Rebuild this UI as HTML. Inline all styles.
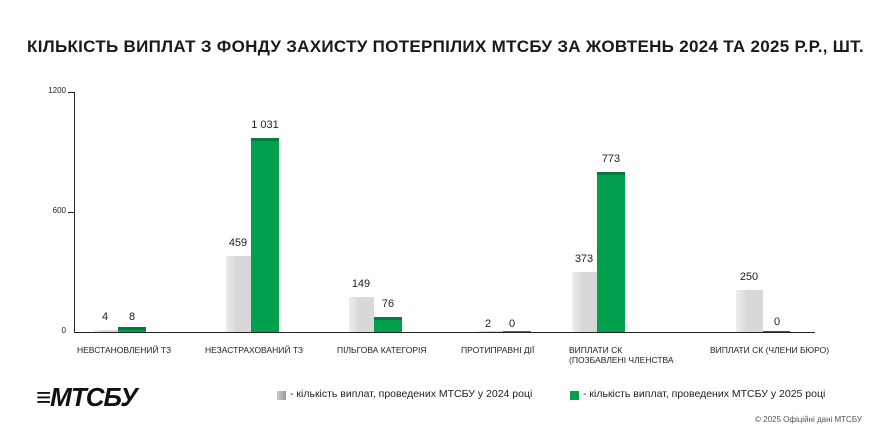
<!DOCTYPE html>
<html><head><meta charset="utf-8"><style>
body{margin:0;width:891px;height:437px;background:#fff;font-family:"Liberation Sans",sans-serif;position:relative;overflow:hidden}
.a{position:absolute}
.t{left:0;width:891px;top:37px;text-align:center;font-weight:bold;font-size:17px;color:#1a1a1a;letter-spacing:0.3px;white-space:nowrap}
.g{position:absolute;background:linear-gradient(90deg,#eeeeee,#d8d8d8 40%,#d8d8d8)}
.gr{position:absolute;background:#00a04f;border-top:3px solid #067a3e;box-sizing:border-box}
.v{position:absolute;font-size:11px;color:#222;width:40px;text-align:center}
.c{position:absolute;font-size:8.5px;color:#222;top:345px;white-space:nowrap}
.y{position:absolute;font-size:8px;color:#222;text-align:right;width:30px;left:36px}
</style></head><body>
<div class="a t">КІЛЬКІСТЬ ВИПЛАТ З ФОНДУ ЗАХИСТУ ПОТЕРПІЛИХ МТСБУ ЗА ЖОВТЕНЬ 2024 ТА 2025 Р.Р., ШТ.</div>
<div class="a" style="left:74px;top:92px;width:1px;height:241px;background:#222"></div>
<div class="a" style="left:74px;top:332px;width:741px;height:1px;background:#222"></div>
<div class="a" style="left:68px;top:92px;width:6px;height:1px;background:#222"></div>
<div class="a" style="left:68px;top:212px;width:6px;height:1px;background:#222"></div>
<div class="y" style="top:86px">1200</div><div class="y" style="top:206px">600</div><div class="y" style="top:326px">0</div>

<div class="g" style="left:93px;top:330px;width:25px;height:2px"></div>
<div class="gr" style="left:118px;top:327px;width:28px;height:5px"></div>
<div class="v" style="left:85px;top:311px">4</div><div class="v" style="left:112px;top:311px">8</div>

<div class="g" style="left:226px;top:256px;width:25px;height:76px"></div>
<div class="gr" style="left:251px;top:138px;width:28px;height:194px"></div>
<div class="v" style="left:218px;top:237px">459</div><div class="v" style="left:245px;top:119px">1 031</div>

<div class="g" style="left:349px;top:297px;width:25px;height:35px"></div>
<div class="gr" style="left:374px;top:317px;width:28px;height:15px"></div>
<div class="v" style="left:341px;top:278px">149</div><div class="v" style="left:368px;top:298px">76</div>

<div class="g" style="left:478px;top:331px;width:25px;height:1px"></div>
<div class="gr" style="left:503px;top:331px;width:28px;height:1px;border:0"></div>
<div class="v" style="left:468px;top:318px">2</div><div class="v" style="left:492px;top:318px">0</div>

<div class="g" style="left:572px;top:272px;width:25px;height:60px"></div>
<div class="gr" style="left:597px;top:172px;width:28px;height:160px"></div>
<div class="v" style="left:564px;top:253px">373</div><div class="v" style="left:591px;top:153px">773</div>

<div class="g" style="left:736px;top:290px;width:27px;height:42px"></div>
<div class="gr" style="left:763px;top:331px;width:27px;height:1px;border:0;background:#067a3e"></div>
<div class="v" style="left:729px;top:271px">250</div><div class="v" style="left:757px;top:316px">0</div>

<div class="c" style="left:77px">НЕВСТАНОВЛЕНИЙ ТЗ</div>
<div class="c" style="left:205px">НЕЗАСТРАХОВАНИЙ ТЗ</div>
<div class="c" style="left:337px">ПІЛЬГОВА КАТЕГОРІЯ</div>
<div class="c" style="left:461px">ПРОТИПРАВНІ ДІЇ</div>
<div class="c" style="left:569px;line-height:10px">ВИПЛАТИ СК<br>(ПОЗБАВЛЕНІ ЧЛЕНСТВА</div>
<div class="c" style="left:710px">ВИПЛАТИ СК (ЧЛЕНИ БЮРО)</div>

<div class="a" style="left:36px;top:382px;font-size:26px;font-weight:bold;font-style:italic;color:#111;letter-spacing:-1px">≡МТСБУ</div>
<div class="a" style="left:277px;top:391px;width:9px;height:9px;background:linear-gradient(90deg,#ccc,#999)"></div>
<div class="a" style="left:290px;top:388px;font-size:10.5px;color:#222">- кількість виплат, проведених МТСБУ у 2024 році</div>
<div class="a" style="left:570px;top:391px;width:9px;height:9px;background:#00a04f"></div>
<div class="a" style="left:583px;top:388px;font-size:10.5px;color:#222">- кількість виплат, проведених МТСБУ у 2025 році</div>
<div class="a" style="left:755px;top:415px;font-size:8px;color:#555">© 2025 Офіційні дані МТСБУ</div>
</body></html>
